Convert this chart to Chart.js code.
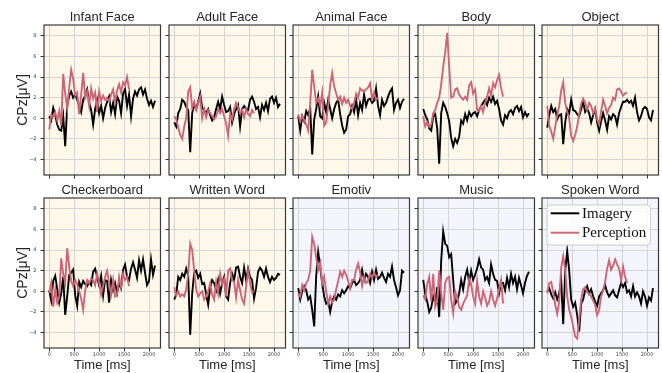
<!DOCTYPE html>
<html>
<head>
<meta charset="utf-8">
<script src="https://cdn.jsdelivr.net/npm/chart.js@4.4.1/dist/chart.umd.min.js"></script>
<style>
  body { margin: 0; background: #fff; width: 662px; height: 373px; position: relative; overflow: hidden; }
  canvas { position: absolute; }
</style>
</head>
<body>
<script>
// sample times (ms)
const imageryTimes = [0, 40, 80, 120, 160, 200, 240, 280, 320, 360, 400, 440, 480, 520, 560, 600, 640, 680, 720, 760,
  800, 840, 880, 920, 960, 1000, 1040, 1080, 1120, 1160, 1200, 1240, 1280, 1320, 1360, 1400, 1440, 1480, 1520, 1560,
  1600, 1640, 1680, 1720, 1760, 1800, 1840, 1880, 1920, 1960, 2000, 2040, 2080, 2120];
const perceptionTimes = [0, 40, 80, 120, 160, 200, 240, 280, 320, 360, 400, 440, 480, 520, 560, 600, 640, 680, 720, 760,
  800, 840, 880, 920, 960, 1000, 1040, 1080, 1120, 1160, 1200, 1240, 1280, 1320, 1360, 1400, 1440, 1480, 1520, 1560, 1600];

const panelTitles = ["Infant Face", "Adult Face", "Animal Face", "Body", "Object",
  "Checkerboard", "Written Word", "Emotiv", "Music", "Spoken Word"];
const xTicks = [0, 500, 1000, 1500, 2000];
const yTicks = [-4, -2, 0, 2, 4, 6, 8];

// CPz amplitude (uV)
const infantFaceImagery = [0.2, -0.2, 1.0, 0.3, -0.6, -1.1, -1.2, 0.2, -2.7, 1.2, 2.2, 2.6, 2.0, 2.3, 1.8, 1.2, 0.6, 1.8, 2.2, 2.8,
  1.5, 0.8, -0.6, 0.9, 1.8, 0.5, 1.2, 0.0, 1.0, 1.6, 2.1, 0.6, 1.5, 0.4, 2.1, 1.7, 0.5, 2.4, 2.8, 1.2,
  2.3, 0.2, 1.9, 2.6, 2.2, 2.8, 3.0, 2.3, 2.8, 1.9, 1.3, 1.7, 1.1, 1.7];
const infantFacePerception = [-1.1, 0.3, 0.2, 0.6, -0.2, 0.7, -0.7, 4.3, 2.4, 1.0, 3.0, 4.7, 3.8, 2.2, 2.5, 0.4, 2.3, 4.4, 2.0, 2.6,
  1.2, 2.9, 1.9, 2.5, 0.6, 2.6, 1.7, 2.2, 1.8, 2.0, 1.6, 2.3, 2.8, 1.6, 2.7, 3.3, 2.5, 3.5, 3.2, 4.0, 2.8];

const adultFaceImagery = [-0.4, -0.8, 0.5, 0.9, 1.8, 1.6, 1.1, 0.8, -3.3, 0.5, 1.3, 0.9, 1.6, 2.4, 1.0, 0.8, 0.5, 0.9, 0.3, -0.2,
  0.1, 0.9, 1.6, 0.9, 2.1, 1.3, 0.6, 0.7, 1.1, -0.4, 0.4, 0.9, 1.3, -0.8, 0.9, 1.2, 0.9, 0.8, 1.8, 2.1,
  1.6, 0.9, 1.1, 0.1, 1.3, 0.8, 1.5, 0.7, 1.9, 2.1, 1.5, 2.0, 1.1, 1.4];
const adultFacePerception = [0.2, -0.1, -0.9, -1.6, -2.0, -0.8, 0.0, 2.6, 3.0, 1.0, 1.6, 0.8, 1.5, 2.1, 0.0, 0.9, 0.1, 0.8, 0.5, 0.2,
  -0.1, 0.2, 0.9, 0.5, 0.9, 0.2, -0.5, -1.7, 0.5, -0.1, 0.9, 1.5, 1.1, 0.5, 0.8, 0.1, 0.9, 0.4, 0.2, 0.8, 0.5];

const animalFaceImagery = [0.2, -1.2, 0.2, -0.3, 0.7, 0.3, 1.0, -3.5, -0.1, 0.9, 2.1, 0.2, 0.0, 1.5, 0.6, 1.8, 0.9, 0.0, 0.9, 1.5,
  1.8, 0.4, -0.7, -1.4, -1.1, 0.2, 0.4, 1.2, 0.6, 1.8, 0.3, 1.5, 0.8, 2.3, 1.2, 1.8, 1.9, 1.5, 1.7, 2.9,
  1.2, 0.3, 1.8, 1.2, 1.5, 2.1, 2.6, 2.9, 0.8, 1.5, 1.8, 1.0, 1.6, 1.9];
const animalFacePerception = [0.4, -0.3, 0.2, -0.2, -0.6, -1.2, 1.5, 4.7, 3.1, 1.5, 1.9, 1.2, 2.5, -0.7, -0.4, 1.2, 3.2, 4.4, 3.1, 2.4,
  1.8, 2.1, 1.4, 2.0, 1.5, 1.8, 1.2, 0.9, 1.5, 2.4, 2.0, 2.9, 2.7, 2.6, 2.8, 3.0, 3.4, 1.9, 2.5, 1.8, 2.0];

const bodyImagery = [0.9, 0.3, -0.1, -1.0, -1.2, 0.2, 0.4, -1.0, -4.4, 0.5, 1.5, 1.1, 0.5, -0.3, -1.9, -2.7, -2.0, -2.4, -1.8, -0.2,
  -0.5, 0.4, -0.2, 0.6, 0.2, 0.5, 0.6, 0.2, 0.8, 1.2, 1.5, 1.8, 1.3, 2.0, 1.6, 2.1, 1.4, 1.7, 0.9, -0.2,
  -0.6, 0.3, 0.0, 0.6, 0.8, 0.4, 1.0, 1.2, 0.7, 1.1, 0.1, 0.6, 0.2, 0.5];
const bodyPerception = [0.2, -0.8, -0.4, -0.8, -0.6, 0.5, 0.8, 1.5, 2.0, 3.3, 5.0, 6.4, 8.3, 5.0, 2.0, 2.1, 2.8, 2.9, 2.3, 2.0,
  1.8, 2.1, 1.8, 3.2, 3.5, 2.4, 2.8, 0.8, 0.7, 1.2, 0.6, 1.5, 2.1, 2.9, 2.2, 3.4, 3.0, 3.7, 4.2, 2.9, 2.1];

const objectImagery = [-0.9, 0.3, 1.2, 0.6, 0.9, -0.1, 0.3, 0.4, -2.5, -0.4, 0.9, 0.5, 1.8, 0.8, 0.7, 0.4, 0.2, 0.9, 1.6, 0.6,
  0.9, 0.5, -0.4, 0.3, 0.9, -0.4, -1.2, -0.3, 0.5, -0.2, -1.1, 0.2, -0.1, 0.4, 0.2, -0.6, 0.5, 1.1, 1.6, 1.6,
  1.8, 1.5, 1.7, 1.2, 2.0, 0.6, -0.2, 0.2, 0.9, 1.1, 0.9, 0.1, -0.2, 0.8];
const objectPerception = [1.2, -0.7, -1.3, -2.0, -0.8, 0.3, 1.2, 2.7, 3.5, 1.5, 0.6, 0.0, -1.7, -2.2, -1.6, -0.8, 0.4, 1.4, 1.9, 1.5,
  0.8, 1.5, 1.2, 0.5, 0.9, -0.1, -0.6, 0.7, 1.8, 1.2, 0.5, 1.0, 1.3, 2.0, 1.8, 2.8, 2.9, 2.6, 2.2, 2.4, 2.5];

const checkerboardImagery = [0.1, -0.9, 1.0, 1.5, 0.2, -1.1, -0.2, 1.4, -2.3, -0.5, 1.6, 1.8, 2.1, -0.4, -1.4, 0.9, 0.4, 1.0, 0.7, 0.5,
  0.9, 0.6, 1.9, 2.2, 1.4, 0.6, 1.5, -0.4, 1.1, 1.0, -1.1, 1.1, 0.1, 0.8, -0.2, 0.8, 0.3, 2.1, 2.6, 1.4,
  1.1, 2.2, 2.8, 2.1, 1.3, 3.0, 2.0, 3.1, 1.8, 0.6, 1.0, 3.1, 1.6, 2.5];
const checkerboardPerception = [-0.2, 0.8, -1.5, 0.2, -1.1, -0.6, 3.2, 1.7, 0.8, 4.2, 2.4, 1.0, 0.5, 1.1, 0.7, 0.0, -0.7, -1.8, 0.1, 1.1,
  0.8, 1.2, 1.1, 0.6, 1.7, 0.9, -0.3, 0.5, 1.4, 2.0, 0.8, -0.3, 1.1, -0.5, -0.3, 1.4, 0.4, 1.7, 1.1, 1.4, 0.5];

const writtenWordImagery = [-0.8, -0.3, 1.4, 1.1, 1.7, 1.4, 2.2, 1.5, -4.2, -0.2, 1.8, 2.0, 1.3, 1.7, 0.7, 0.8, -0.3, -1.3, 0.4, 1.1,
  0.8, 0.1, 1.1, -0.2, 0.8, 1.4, -0.5, -0.8, 0.8, 1.7, 1.1, 2.3, 2.4, 1.4, 0.8, 2.3, 1.1, 2.2, 1.4, 1.1,
  -0.7, 0.3, 1.9, 2.3, 2.0, 1.4, 2.2, 1.4, 0.9, 1.4, 1.1, 1.3, 1.7, 1.6];
const writtenWordPerception = [0.4, -0.4, 0.0, -0.5, -0.3, -0.5, 0.2, 1.7, 4.6, 4.0, 2.0, 0.2, -0.5, -0.2, 0.0, -0.8, -0.5, 0.0, 0.8, -0.3,
  -0.8, 0.9, -0.2, 1.7, 0.7, 1.2, -0.5, 2.0, 2.2, 1.1, 0.9, -0.6, 1.1, 0.1, -0.8, -1.2, 0.4, 2.0, 0.8, -0.1, 0.0];

const emotivImagery = [0.3, -0.8, 0.0, 0.5, 0.1, -0.8, -0.5, -1.8, -3.4, 1.5, 3.8, 2.4, 0.8, -0.5, -1.2, -1.0, -2.0, -1.0, -0.5, -0.8,
  -0.3, -0.5, 0.1, -0.2, 0.1, 0.5, 0.3, 0.8, 1.1, 0.6, 0.8, 1.1, 2.1, 1.1, 1.7, 1.4, 0.8, 1.9, 1.1, 2.1,
  1.2, 1.4, 1.8, 1.3, 0.9, 1.7, 1.4, 2.4, 1.1, 0.4, -0.4, 0.1, 2.0, 1.8];
const emotivPerception = [-0.2, -0.5, 0.6, 0.1, 0.8, 1.1, 2.0, 5.3, 4.6, 3.3, 2.1, 2.8, 0.7, 1.4, 0.0, -1.2, -0.5, -1.1, -0.8, 0.2,
  1.0, 1.9, 1.4, 2.0, 1.6, 1.0, 0.3, 1.1, 1.1, 2.1, 2.7, 1.9, 0.5, 1.4, 0.8, 1.0, 1.7, 1.3, 1.8, 1.4, 1.6];

const musicImagery = [1.1, -0.3, -1.0, -2.0, -1.6, -0.5, -1.1, 0.4, -2.5, 3.0, 5.8, 4.6, 4.4, 3.3, 3.6, 1.1, -1.2, -0.9, -0.2, 1.1,
  0.2, 1.4, 2.1, 0.9, 2.0, 1.1, 1.6, 2.2, 3.1, 2.3, 2.1, 1.1, 1.4, 0.8, 2.6, 1.7, 1.1, 1.0, -0.2, 0.8,
  0.8, 0.1, 1.3, 0.4, 1.7, 0.8, 1.4, 0.2, 1.3, 0.6, -0.2, 0.8, 1.5, 1.9];
const musicPerception = [-0.4, -0.8, 0.7, 1.4, -1.0, 1.7, -1.5, -0.9, 2.0, -0.2, -1.8, 0.8, 1.3, 1.4, -0.8, -2.1, 0.0, -0.6, -1.5, -1.8,
  -1.2, -0.8, -0.4, 1.2, 0.7, -0.5, -1.2, 1.0, -0.5, -1.2, 0.0, -0.6, -1.4, -1.0, 0.0, -0.8, -1.4, -0.7, 0.2, 1.1, -1.2];

const spokenWordImagery = [0.0, 0.3, -0.3, -0.7, -0.1, -0.8, -0.2, 1.0, -3.2, 2.0, 3.9, 2.0, -0.8, -1.5, -1.1, -2.3, -3.9, -1.2, -0.8, 0.1,
  0.5, -0.2, 0.2, -0.5, -1.0, -1.4, -0.5, -0.2, 0.1, 0.6, -0.1, -0.5, -0.2, 0.1, -0.4, -0.6, 0.1, 0.8, 0.4, 0.8,
  -0.1, 0.1, -0.5, 0.5, -0.5, -0.1, -0.5, -1.2, 0.0, -0.5, -1.4, -0.6, -0.9, 0.3];
const spokenWordPerception = [-0.2, 0.8, 0.9, -0.1, -1.3, -2.2, -1.0, 2.3, 3.4, 2.1, -0.5, -1.8, -2.5, -3.4, -4.4, -4.6, -2.8, -0.8, 0.2, 0.4,
  -0.1, -0.2, -0.5, -0.9, -1.3, -2.3, -1.8, -0.5, 0.1, 0.9, 2.2, 3.0, 2.1, 2.5, 3.1, 2.6, 2.2, 1.1, 2.4, 1.4, 0.8];

const imagerySeries = [infantFaceImagery, adultFaceImagery, animalFaceImagery, bodyImagery, objectImagery,
  checkerboardImagery, writtenWordImagery, emotivImagery, musicImagery, spokenWordImagery];
const perceptionSeries = [infantFacePerception, adultFacePerception, animalFacePerception, bodyPerception, objectPerception,
  checkerboardPerception, writtenWordPerception, emotivPerception, musicPerception, spokenWordPerception];

// panel geometry
const colLeft = [44, 169, 293, 418, 542];
const rowTop = [25, 198];
const plotW = 116.5, plotH = 150;
const padL = 44, padR = 3.5, padT = 20;
const padB = [8, 25];

const creamBg = "#fdf8ea";
const blueBg = "#f4f5fc";
const gridColor = "#d4d4d4";
const frameColor = "#3a3a3a";

// fills the plot area and draws the box around it
const panelFrame = {
  id: "panelFrame",
  beforeDraw(chart, args, opts) {
    const { ctx, chartArea: a } = chart;
    ctx.save();
    ctx.fillStyle = opts.background;
    ctx.fillRect(a.left, a.top, a.width, a.height);
    ctx.restore();
  },
  afterDatasetsDraw(chart) {
    const { ctx, chartArea: a } = chart;
    ctx.save();
    ctx.strokeStyle = frameColor;
    ctx.lineWidth = 1.2;
    ctx.strokeRect(a.left, a.top, a.width, a.height);
    ctx.restore();
  },
};

// legend box in the upper-left corner of the plot
const insetLegend = {
  id: "insetLegend",
  afterDraw(chart) {
    const { ctx, chartArea: a } = chart;
    const x = a.left + 5, y = a.top + 7, w = 103.5, h = 40;
    ctx.save();
    ctx.fillStyle = "rgba(255,255,255,0.85)";
    ctx.strokeStyle = "#cccccc";
    ctx.lineWidth = 1;
    ctx.beginPath();
    ctx.roundRect(x, y, w, h, 3);
    ctx.fill();
    ctx.stroke();
    ctx.font = '15px "Liberation Serif"';
    ctx.textBaseline = "middle";
    chart.data.datasets.forEach((ds, i) => {
      const ly = y + 8.3 + i * 19.4;
      ctx.strokeStyle = ds.borderColor;
      ctx.lineWidth = 2;
      ctx.beginPath();
      ctx.moveTo(x + 3.7, ly);
      ctx.lineTo(x + 32.3, ly);
      ctx.stroke();
      ctx.fillStyle = "#111";
      ctx.fillText(ds.label, x + 35, ly + 0.5);
    });
    ctx.restore();
  },
};

function toPoints(times, values) {
  return values.map((v, i) => ({ x: times[i], y: v }));
}

function makePanel(idx) {
  const row = Math.floor(idx / 5), col = idx % 5;
  const canvas = document.createElement("canvas");
  const w = padL + plotW + padR, h = padT + plotH + padB[row];
  canvas.width = w;
  canvas.height = h;
  canvas.style.left = (colLeft[col] - padL) + "px";
  canvas.style.top = (rowTop[row] - padT) + "px";
  document.body.appendChild(canvas);

  const plugins = [panelFrame];
  if (idx === 9) plugins.push(insetLegend);

  new Chart(canvas, {
    type: "line",
    data: {
      datasets: [
        {
          label: "Imagery",
          data: toPoints(imageryTimes, imagerySeries[idx]),
          borderColor: "#000000",
          borderWidth: 1.9,
          pointRadius: 0,
          tension: 0,
          order: 1,
        },
        {
          label: "Perception",
          data: toPoints(perceptionTimes, perceptionSeries[idx]),
          borderColor: "#cc6677",
          borderWidth: 1.9,
          pointRadius: 0,
          tension: 0,
          order: 0,
        },
      ],
    },
    options: {
      responsive: false,
      animation: false,
      events: [],
      layout: { padding: { left: 0, right: padR, top: 0, bottom: 0 } },
      plugins: {
        legend: { display: false },
        tooltip: { enabled: false },
        title: {
          display: true,
          fullSize: false,
          text: panelTitles[idx],
          color: "#262626",
          font: { family: "Liberation Sans", size: 13, weight: "normal", lineHeight: 1.2 },
          padding: { top: 4.2, bottom: 0.2 },
        },
        panelFrame: { background: idx >= 7 ? blueBg : creamBg },
      },
      scales: {
        x: {
          type: "linear",
          min: -105,
          max: 2230,
          afterBuildTicks: (s) => { s.ticks = xTicks.map((v) => ({ value: v })); },
          afterFit: (s) => { s.height = padB[row]; },
          border: { display: false },
          grid: { color: gridColor, lineWidth: 1, tickLength: 3.5, tickColor: "#333", tickWidth: 1 },
          ticks: {
            display: row === 1,
            autoSkip: false,
            maxRotation: 0,
            padding: 0.5,
            color: "#444",
            font: { family: "DejaVu Sans", size: 5 },
            callback: (v) => String(v),
          },
          title: {
            display: row === 1,
            text: "Time [ms]",
            color: "#262626",
            font: { family: "Liberation Sans", size: 13, lineHeight: 1.2 },
            padding: { top: 0, bottom: 0 },
          },
        },
        y: {
          min: -5.5,
          max: 9.05,
          afterBuildTicks: (s) => { s.ticks = yTicks.map((v) => ({ value: v })); },
          afterFit: (s) => { s.width = padL; },
          border: { display: false },
          grid: { color: gridColor, lineWidth: 1, tickLength: 3.5, tickColor: "#333", tickWidth: 1 },
          ticks: {
            display: col === 0,
            padding: 4,
            color: "#444",
            font: { family: "DejaVu Sans", size: 5 },
            callback: (v) => String(v).replace("-", "\u2212"),
          },
          title: {
            display: col === 0,
            text: "CPz[μV]",
            color: "#262626",
            font: { family: "Liberation Sans", size: 14, lineHeight: 1.2 },
            padding: { top: 15, bottom: 0 },
          },
        },
      },
    },
    plugins: plugins,
  });
}

for (let i = 0; i < 10; i++) makePanel(i);
</script>
</body>
</html>
